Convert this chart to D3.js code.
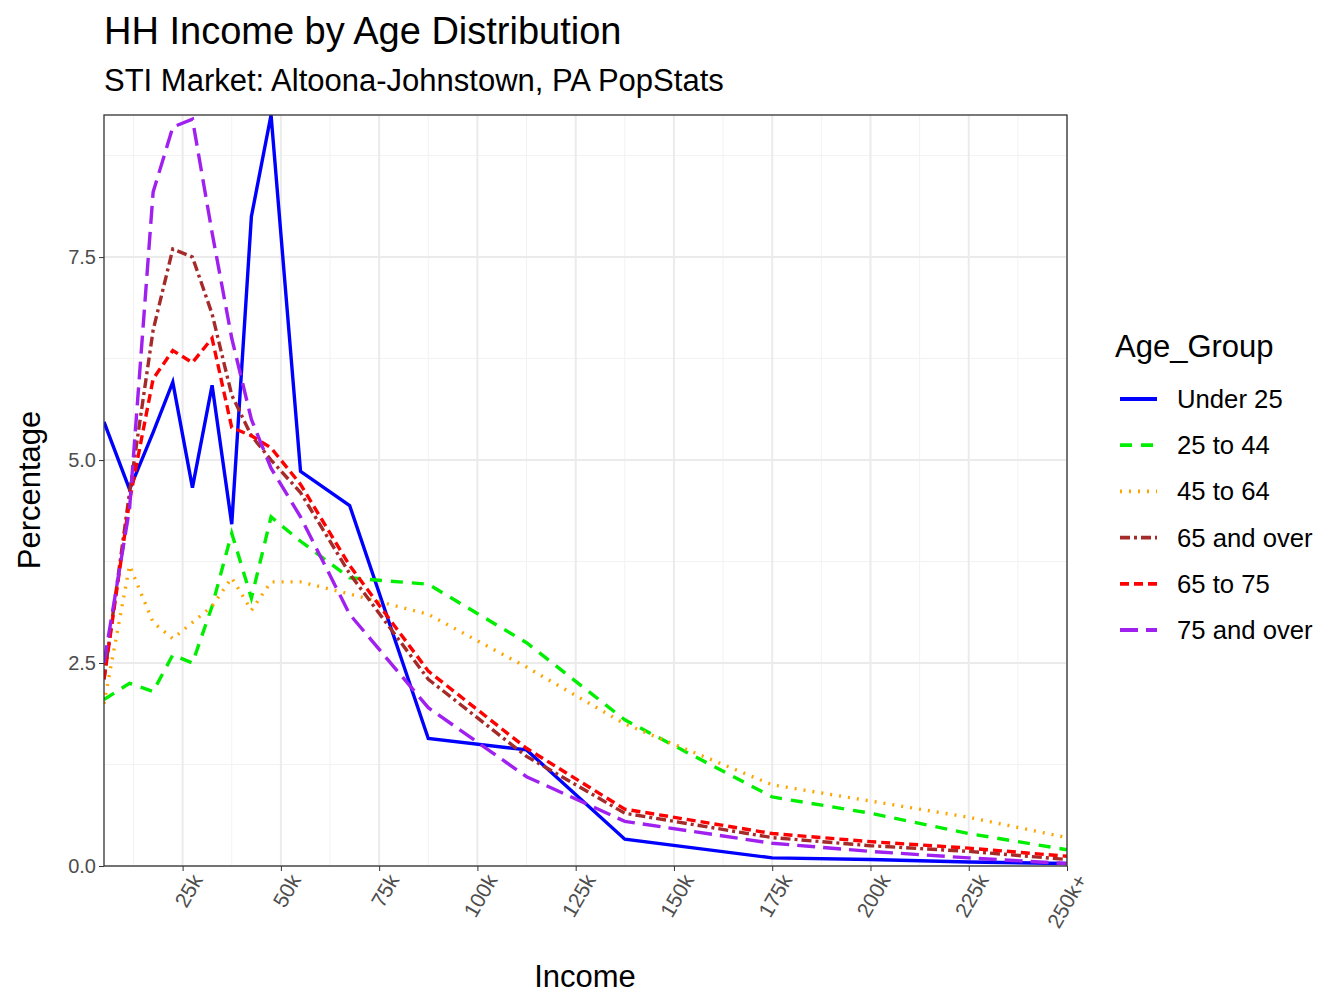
<!DOCTYPE html><html><head><meta charset="utf-8"><script src="https://cdn.jsdelivr.net/npm/d3@7"></script>
<style>body{margin:0;background:#fff}text{font-family:Arial,"Liberation Sans",sans-serif}</style></head><body><svg id="c" width="1344" height="1008"></svg><script>
const incomes=[5,11.5,17.5,22.5,27.5,32.5,37.5,42.5,47.5,55,67.5,87.5,112.5,137.5,175,200,225,250];
const groups=["Under 25","25 to 44","45 to 64","65 and over","65 to 75","75 and over"];
const under25=[5.47,4.64,5.34,5.96,4.66,5.92,4.21,8.0,9.25,4.86,4.44,1.57,1.43,0.33,0.1,0.08,0.05,0.03];
const age25to44=[2.05,2.25,2.15,2.6,2.5,3.2,4.1,3.3,4.3,4.0,3.55,3.47,2.75,1.8,0.85,0.65,0.4,0.2];
const age45to64=[2.0,3.7,3.0,2.8,3.0,3.2,3.55,3.15,3.5,3.5,3.35,3.1,2.45,1.75,1.0,0.8,0.6,0.35];
const age65over=[2.3,4.6,6.6,7.6,7.5,6.8,5.8,5.3,5.0,4.6,3.6,2.3,1.35,0.65,0.35,0.25,0.18,0.08];
const age65to75=[2.3,4.5,6.0,6.35,6.2,6.5,5.4,5.3,5.15,4.7,3.7,2.4,1.45,0.7,0.4,0.3,0.22,0.12];
const age75over=[2.5,4.4,8.3,9.1,9.2,7.8,6.5,5.5,4.9,4.3,3.1,1.95,1.1,0.55,0.28,0.18,0.1,0.03];
const xTicks=[25,50,75,100,125,150,175,200,225,250];
const xTickLabels=["25k","50k","75k","100k","125k","150k","175k","200k","225k","250k+"];
const yTicks=[0,2.5,5,7.5];
const seriesVals=[under25,age25to44,age45to64,age65over,age65to75,age75over];
const colors=["#0000ff","#00ee00","#ffa500","#a52a2a","#ff0000","#a020f0"];
const dashes=[null,"12 9","2 7","10 4 3 4","9 5","18 8"];

const svg=d3.select("#c");
const L=104,R=1067,T=115,B=866;
const x=d3.scaleLinear().domain([5,250]).range([L,R]);
const y=d3.scaleLinear().domain([0,9.25]).range([B,T]);
const g=svg.append("g");
[12.5,37.5,62.5,87.5,112.5,137.5,162.5,187.5,212.5,237.5].forEach(v=>g.append("line").attr("x1",x(v)).attr("x2",x(v)).attr("y1",T).attr("y2",B).attr("stroke","#f2f2f2").attr("stroke-width",1));
[1.25,3.75,6.25,8.75].forEach(v=>g.append("line").attr("x1",L).attr("x2",R).attr("y1",y(v)).attr("y2",y(v)).attr("stroke","#f2f2f2").attr("stroke-width",1));
xTicks.forEach(v=>g.append("line").attr("x1",x(v)).attr("x2",x(v)).attr("y1",T).attr("y2",B).attr("stroke","#ebebeb").attr("stroke-width",2));
yTicks.forEach(v=>g.append("line").attr("x1",L).attr("x2",R).attr("y1",y(v)).attr("y2",y(v)).attr("stroke","#ebebeb").attr("stroke-width",2));
svg.append("clipPath").attr("id","cp").append("rect").attr("x",L).attr("y",T).attr("width",R-L).attr("height",B-T);
const line=d3.line().x((d,i)=>x(incomes[i])).y(d=>y(d));
const lg=svg.append("g").attr("clip-path","url(#cp)");
seriesVals.forEach((s,k)=>{lg.append("path").attr("d",line(s)).attr("fill","none").attr("stroke",colors[k]).attr("stroke-width",3.4).attr("stroke-dasharray",dashes[k]);});
svg.append("rect").attr("x",L).attr("y",T).attr("width",R-L).attr("height",B-T).attr("fill","none").attr("stroke","#333").attr("stroke-width",1.3);
const xa=svg.append("g").attr("transform",`translate(0,${B})`).call(d3.axisBottom(x).tickValues(xTicks).tickFormat((d,i)=>xTickLabels[i]).tickSize(5).tickSizeOuter(0));
xa.select(".domain").remove();
xa.selectAll("line").attr("stroke","#333");
xa.selectAll("text").attr("font-size",21).attr("fill","#4d4d4d").attr("text-anchor","end").attr("transform","translate(7,6) rotate(-60)").attr("dy","0.35em").attr("dx","0");
const ya=svg.append("g").attr("transform",`translate(${L},0)`).call(d3.axisLeft(y).tickValues(yTicks).tickFormat(d3.format(".1f")).tickSize(5).tickSizeOuter(0));
ya.select(".domain").remove();
ya.selectAll("line").attr("stroke","#333");
ya.selectAll("text").attr("font-size",20).attr("fill","#4d4d4d");
svg.append("text").attr("x",104).attr("y",44).attr("font-size",38).text("HH Income by Age Distribution");
svg.append("text").attr("x",104).attr("y",91).attr("font-size",31).text("STI Market: Altoona-Johnstown, PA PopStats");
svg.append("text").attr("x",585).attr("y",987).attr("font-size",31).attr("text-anchor","middle").text("Income");
svg.append("text").attr("transform","translate(40,490) rotate(-90)").attr("font-size",31).attr("text-anchor","middle").text("Percentage");
svg.append("text").attr("x",1115).attr("y",357).attr("font-size",31).text("Age_Group");
groups.forEach((n,k)=>{const yy=399+k*46.2;
svg.append("line").attr("x1",1120).attr("x2",1157).attr("y1",yy).attr("y2",yy).attr("stroke",colors[k]).attr("stroke-width",3.8).attr("stroke-dasharray",dashes[k]);
svg.append("text").attr("x",1177).attr("y",yy+9).attr("font-size",25.7).text(n);});
</script></body></html>
